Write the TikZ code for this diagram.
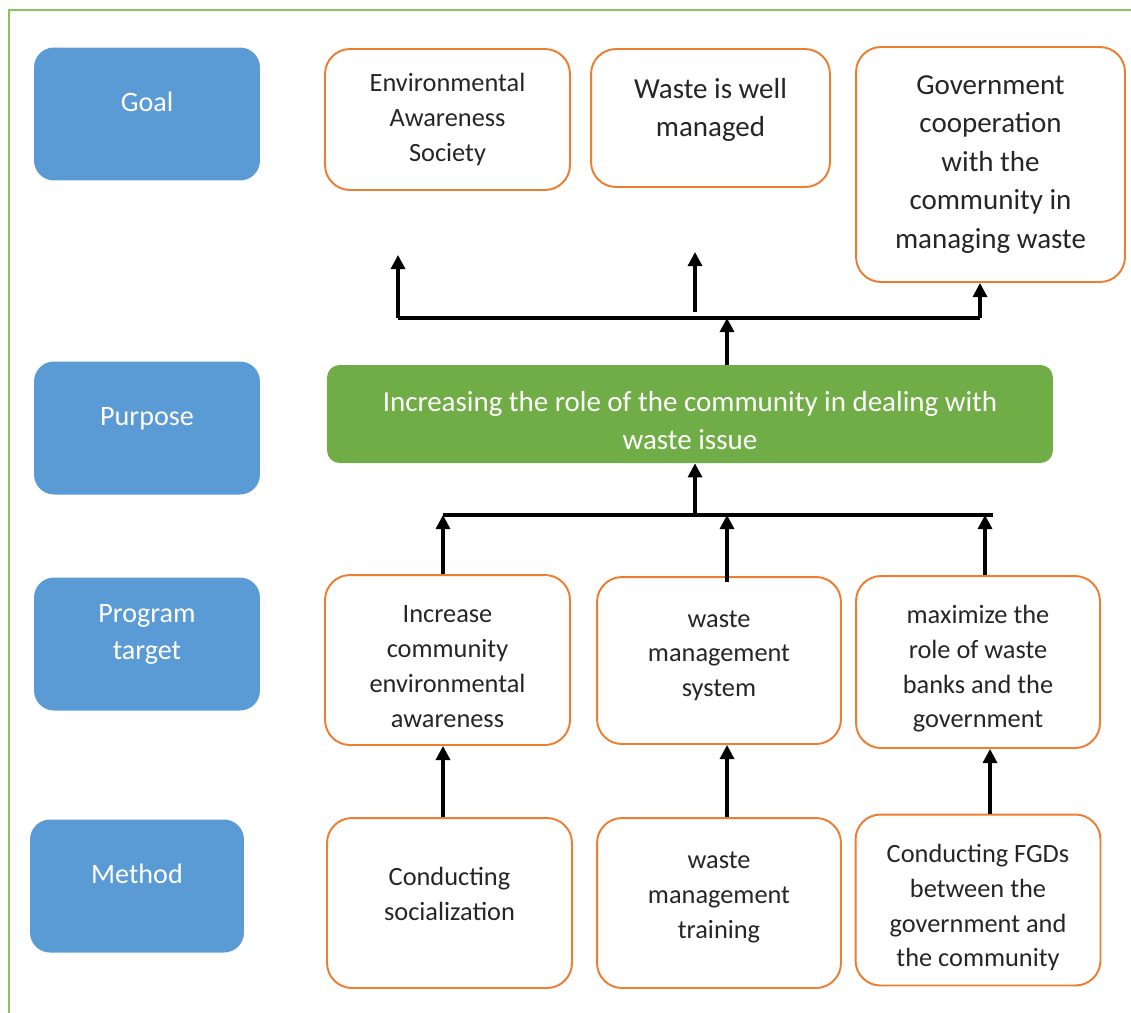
\documentclass[tikz,border=0pt]{standalone}
\usepackage{fontspec}
\setmainfont{Carlito}
\usepackage{tikz}
\usetikzlibrary{arrows.meta}
\usepackage{xcolor}
\definecolor{lblblue}{HTML}{5B9BD5}
\definecolor{purpgreen}{HTML}{70AD47}
\definecolor{boxorange}{HTML}{ED7D31}
\definecolor{framegreen}{HTML}{86C45E}
\definecolor{txtgray}{HTML}{262626}

\tikzset{
  lbl/.style={fill=lblblue,rounded corners=0.4cm,text=white,align=center,
    font=\fontsize{16}{21}\selectfont,minimum width=4.52cm,minimum height=2.66cm},
  obox/.style={draw=boxorange,line width=1.1pt,rounded corners=0.5cm,fill=white,
    text=txtgray,align=center,font=\fontsize{15}{19.8}\selectfont},
  purpbox/.style={fill=purpgreen,rounded corners=0.25cm,text=white,align=center,
    font=\fontsize{16.5}{21.6}\selectfont,minimum width=14.52cm,minimum height=1.96cm},
  bar/.style={line width=1.8pt,line join=miter},
  arr/.style={line width=1.8pt,-{Triangle[width=8pt,length=8pt]}},
}

\begin{document}
\begin{tikzpicture}[x=0.02cm,y=-0.02cm]
\useasboundingbox (0,0) rectangle (1131,1012);
\draw[framegreen,line width=1.3pt] (9,1030) -- (9,10) -- (1150,10);

% row labels
\node[lbl] (goalL) at (147,114) {Goal\\[-0.26cm]};
\node[lbl] (purpL) at (147,428) {Purpose\\[-0.26cm]};
\node[lbl] (progL) at (147,644) {Program\\target\\[-0.26cm]};
\node[lbl,minimum width=4.28cm] (methL) at (137,886) {Method\\[-0.26cm]};

% goal
\node[obox,minimum width=4.9cm,minimum height=2.82cm] (g1) at (447.5,119.5)
  {Environmental\\Awareness\\Society};
\node[obox,minimum width=4.78cm,minimum height=2.76cm,font=\fontsize{16.5}{21.6}\selectfont] (g2) at (710.5,118)
  {Waste is well\\managed\\[-0.32cm]};
\node[obox,minimum width=5.38cm,minimum height=4.7cm,font=\fontsize{16.5}{21.9}\selectfont] (g3) at (990.5,164.5)
  {Government\\cooperation\\with the\\community in\\managing waste};

% purpose
\node[purpbox] (purp) at (690,414)
  {\mbox{}\\[-0.08cm]Increasing the role of the community in dealing with\\waste issue};

% program target
\node[obox,minimum width=4.9cm,minimum height=3.4cm] (t1) at (447.5,660)
  {\mbox{}\\[-0.1cm]Increase\\community\\environmental\\awareness};
\node[obox,minimum width=4.88cm,minimum height=3.34cm] (t2) at (719,660.5)
  {waste\\management\\system\\[-0.42cm]};
\node[obox,minimum width=4.88cm,minimum height=3.44cm] (t3) at (978,662)
  {\mbox{}\\[-0.06cm]maximize the\\role of waste\\banks and the\\government};

% method
\node[obox,minimum width=4.9cm,minimum height=3.4cm] (m1) at (449.5,903)
  {Conducting\\socialization\\[-0.32cm]};
\node[obox,minimum width=4.88cm,minimum height=3.4cm] (m2) at (719,903)
  {waste\\management\\training\\[-0.38cm]};
\node[obox,minimum width=4.9cm,minimum height=3.42cm] (m3) at (978,900)
  {\mbox{}\\[-0.02cm]Conducting FGDs\\between the\\government and\\the community};

% upper junction
\coordinate (up1) at (398,318);
\coordinate (upm) at (727,318);
\coordinate (up3) at (980,318);
\coordinate (tip1) at (398,255);
\coordinate (foot2) at (695,312);
\coordinate (tip2) at (695,252);
\draw[bar] (up1) -- (up3);
\draw[arr] (purp.north -| upm) -- (upm);
\draw[arr] (up1) -- (tip1);
\draw[arr] (foot2) -- (tip2);
\draw[arr] (up3) -- (g3.south -| up3);

% lower junction
\coordinate (lo1) at (443,515);
\coordinate (lo0) at (695,515);
\coordinate (lo2) at (727,515);
\coordinate (lo3) at (985,515);
\coordinate (loend) at (993,515);
\draw[bar] (lo1) -- (loend);
\draw[arr] (lo0) -- (purp.south -| lo0);
\draw[arr] (t1.north -| lo1) -- (lo1);
\draw[arr] ([yshift=-0.12cm]t2.north -| lo2) -- (lo2);
\draw[arr] (t3.north -| lo3) -- (lo3);

% method to target
\coordinate (mx3) at (990,0);
\draw[arr] (m1.north -| lo1) -- (t1.south -| lo1);
\draw[arr] (m2.north -| lo2) -- (t2.south -| lo2);
\draw[arr] (m3.north -| mx3) -- (t3.south -| mx3);
\end{tikzpicture}
\end{document}
